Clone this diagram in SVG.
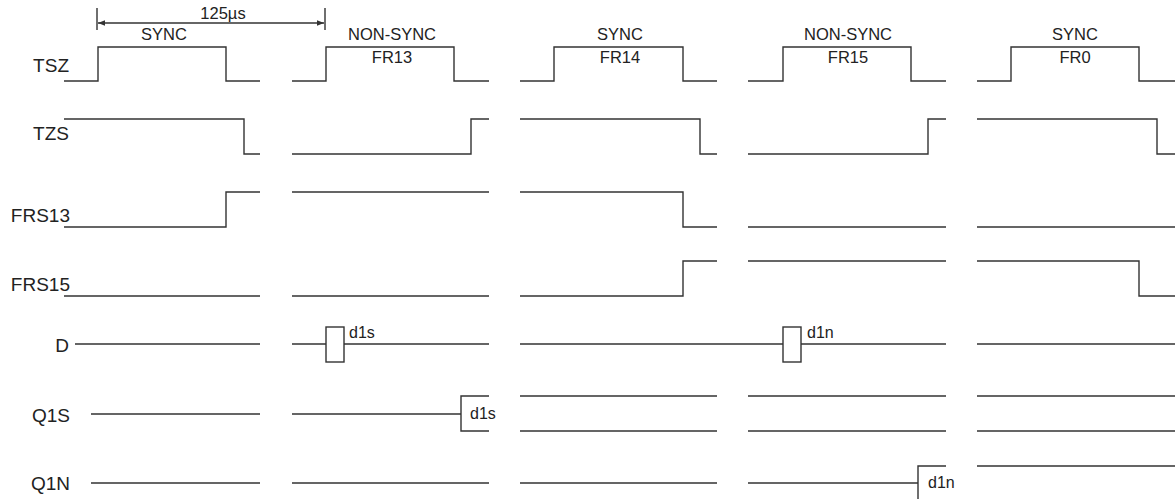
<svg xmlns="http://www.w3.org/2000/svg" width="1175" height="499" viewBox="0 0 1175 499">
<style>
.w{fill:none;stroke:#333;stroke-width:1.4}
.lbl{font-family:"Liberation Sans",Arial,sans-serif;font-size:19px;fill:#222;text-anchor:end}
.top{font-family:"Liberation Sans",Arial,sans-serif;font-size:16.5px;fill:#222;text-anchor:middle}
.sm{font-family:"Liberation Sans",Arial,sans-serif;font-size:16px;fill:#222}
</style>
<defs>
<marker id="ah" viewBox="0 0 10 10" refX="10" refY="5" markerWidth="9" markerHeight="7" markerUnits="userSpaceOnUse" orient="auto-start-reverse">
<path d="M0,1 L10,5 L0,9 Z" fill="#333"/>
</marker>
</defs>
<g id="dimension">
<path class="w" d="M97,8 V30 M325,8 V30"/>
<path class="w" d="M98,23 H324" marker-start="url(#ah)" marker-end="url(#ah)"/>
<text class="top" x="223" y="19">125µs</text>
</g>
<g id="frame-labels">
<text class="top" x="164" y="40">SYNC</text>
<text class="top" x="392" y="40">NON-SYNC</text>
<text class="top" x="392" y="63">FR13</text>
<text class="top" x="620" y="40">SYNC</text>
<text class="top" x="620" y="63">FR14</text>
<text class="top" x="848" y="40">NON-SYNC</text>
<text class="top" x="848" y="63">FR15</text>
<text class="top" x="1075" y="40">SYNC</text>
<text class="top" x="1075" y="63">FR0</text>
</g>
<g id="TSZ">
<text class="lbl" x="69" y="72">TSZ</text>
<path class="w" d="M64,81 H98 V47 H226 V81 H260 M292,81 H326 V47 H454 V81 H489 M520,81 H554 V47 H683 V81 H717 M748,81 H783 V47 H911 V81 H946 M977,81 H1011 V47 H1139 V81 H1175"/>
</g>
<g id="TZS">
<text class="lbl" x="69" y="140">TZS</text>
<path class="w" d="M64,119 H244 V154 H260 M292,154 H471 V119 H489 M520,119 H700 V154 H717 M748,154 H928 V119 H946 M977,119 H1157 V154 H1175"/>
</g>
<g id="FRS13">
<text class="lbl" x="70" y="222">FRS13</text>
<path class="w" d="M64,227 H226 V192 H260 M292,192 H489 M520,192 H683 V227 H717 M748,227 H946 M977,227 H1175"/>
</g>
<g id="FRS15">
<text class="lbl" x="70" y="291">FRS15</text>
<path class="w" d="M64,296 H260 M292,296 H489 M520,296 H683 V261 H717 M748,261 H946 M977,261 H1139 V296 H1175"/>
</g>
<g id="D">
<text class="lbl" x="69" y="352">D</text>
<path class="w" d="M75,344 H260 M292,344 H326 M344,344 H489 M520,344 H783 M801,344 H946 M977,344 H1175"/>
<rect class="w" x="326" y="327" width="18" height="35"/>
<rect class="w" x="783" y="327" width="18" height="35"/>
<text class="sm" x="349" y="338">d1s</text>
<text class="sm" x="807" y="338">d1n</text>
</g>
<g id="Q1S">
<text class="lbl" x="70" y="422">Q1S</text>
<path class="w" d="M91,414 H260 M292,414 H461 M489,396 H461 V431 H489 M520,396 H717 M520,431 H717 M748,396 H946 M748,431 H946 M977,396 H1175 M977,431 H1175"/>
<text class="sm" x="470" y="419">d1s</text>
</g>
<g id="Q1N">
<text class="lbl" x="70" y="490">Q1N</text>
<path class="w" d="M91,483 H260 M292,483 H489 M520,483 H717 M748,483 H918 M946,466 H918 V500 M977,466 H1175"/>
<text class="sm" x="928" y="488">d1n</text>
</g>
</svg>
